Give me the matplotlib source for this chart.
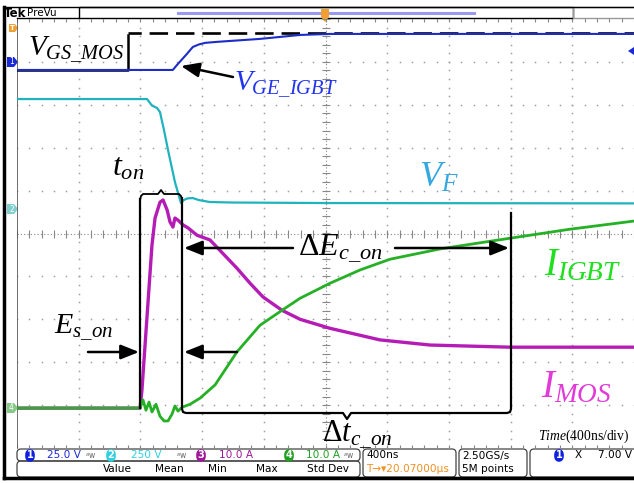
import numpy as np
import matplotlib
matplotlib.use('Agg')
import matplotlib.pyplot as plt
from matplotlib.patches import FancyBboxPatch, Polygon, Rectangle

plt.rcParams['mathtext.fontset'] = 'custom'
plt.rcParams['mathtext.rm'] = 'Liberation Serif'
plt.rcParams['mathtext.it'] = 'Liberation Serif:italic'
plt.rcParams['mathtext.bf'] = 'Liberation Serif:bold'

# channel settings (per div) and ground marker position (div from centre)
ch_scale = {1: 25.0, 2: 250.0, 3: 10.0, 4: 10.0}
ch_offset = {1: 4.0, 2: 0.57, 3: -4.07, 4: -4.07}

# ch1 V_GE_IGBT (V)
t_vge = [-2000, -990, -960, -930, -900, -860, -820, -780, -700, -620, -425, -165, 30, 2000]
v_vge = [-4.7, -4.7, -1.5, 1.5, 4.5, 8.7, 10.2, 11.1, 11.7, 12.2, 13.4, 15.7, 16.3, 16.3]

# V_GS_MOS (drawn on ch1 scale)
t_vgs = [-2000, -1280, -1280]
v_vgs = [-4.7, -4.7, 15.5]
t_vgs_high = [-1280, 2000]
v_vgs_high = [16.9, 16.9]

# ch2 V_F (V)
t_vf = [-2000, -1157, -1125, -1092, -1073, -1047, -1021, -976, -937, -920, -895, -860, -820, -750, -600, 0, 2000]
v_vf = [641, 641, 603, 589, 565, 460, 344, 157, 35, 52, 62, 64, 52, 41, 38, 35, 33]

# ch3 I_MOS (A)
t_imos = [-2000, -1202, -1190, -1125, -1105, -1073, -1053, -1027, -1008, -989, -976, -956,
          -924, -891, -833, -749, -574, -489, -405, -282, -165, 29, 353, 678, 1196, 2000]
i_imos = [0, 0, 4.2, 38.0, 44.3, 48.0, 48.5, 46.2, 43.4, 42.2, 44.3, 43.8,
          42.7, 42.0, 40.3, 39.2, 32.6, 29.1, 25.9, 22.8, 20.7, 18.6, 15.9, 14.7, 14.2, 14.2]

# ch4 I_IGBT (A)
t_iigbt = [-2000, -1202, -1183, -1164, -1144, -1125, -1099, -1073, -1047, -1021, -995, -976,
           -956, -930, -878, -814, -716, -574, -425, -282, -165, 29, 224, 418, 742, 1196, 1585, 2000]
i_iigbt = [0, 0, 1.9, -0.5, 1.4, -0.9, 0.9, -1.9, -3.0, -3.0, -1.4, 0.5,
           -0.7, 0.2, 0.9, 2.3, 5.4, 13.1, 19.3, 22.8, 25.6, 29.1, 32.2, 34.7, 37.1, 39.6, 41.7, 43.6]

W, H = 634, 483
fig = plt.figure(figsize=(W / 100, H / 100), dpi=100)
fig.patch.set_facecolor('white')

# pixel overlay axes for frame / status bar
bg = fig.add_axes([0, 0, 1, 1], zorder=0)
bg.set_xlim(0, W)
bg.set_ylim(H, 0)
bg.axis('off')

# grid axes
gx0, gx1, gy0, gy1 = 17, 634, 19, 448
ax = fig.add_axes([gx0 / W, 1 - gy1 / H, (gx1 - gx0) / W, (gy1 - gy0) / H], zorder=1)
ax.set_xlim(-2000, 2000)
ax.set_ylim(-5, 5)
ax.axis('off')
ax.patch.set_alpha(0)

gcol = '#a0a0a0'
for i in range(-4, 5):
    if i == 0:
        continue
    yy = np.arange(-5, 5.01, 0.2)
    ax.plot(np.full_like(yy, i * 400), yy, ls='none', marker='s', ms=1.1, color=gcol, mec='none')
    xx = np.arange(-2000, 2001, 80)
    ax.plot(xx, np.full_like(xx, i, dtype=float), ls='none', marker='s', ms=1.1, color=gcol, mec='none')
# centre lines with minor ticks
yy = np.arange(-5, 5.01, 0.2)
ax.plot(np.zeros_like(yy), yy, ls='none', marker='_', ms=6, mew=0.8, color='#888888')
ax.plot([0, 0], [-5, 5], ls=(0, (1, 2)), lw=0.8, color='#888888')
xx = np.arange(-2000, 2001, 80)
ax.plot(xx, np.zeros_like(xx, dtype=float), ls='none', marker='|', ms=6, mew=0.8, color='#888888')
ax.plot([-2000, 2000], [0, 0], ls=(0, (1, 2)), lw=0.8, color='#888888')
# edge ticks
ax.plot(xx, np.full_like(xx, -5, dtype=float), ls='none', marker='|', ms=5, mew=0.8, color='#888888')
ax.plot([-2000, 2000], [-5, -5], lw=0.6, color='#b0b0b0')
ax.plot(xx, np.full_like(xx, 5, dtype=float), ls='none', marker='|', ms=5, mew=0.8, color='#888888')
ax.plot([-2000, -2000], [-5, 5], lw=1.2, color='#555555')


def to_div(ch, vals):
    return ch_offset[ch] + np.asarray(vals, dtype=float) / ch_scale[ch]


ax.plot(t_vgs, to_div(1, v_vgs), color='black', lw=1.8, zorder=3)
ax.plot(t_vgs_high, to_div(1, v_vgs_high), color='black', lw=1.9, ls=(2, (7, 3)), zorder=3)
ax.plot(t_vge, to_div(1, v_vge), color='#1c2cc8', lw=1.5, zorder=4)
ax.plot(t_vf, to_div(2, v_vf), color='#1fb3bd', lw=1.6, zorder=4)
ax.plot(t_imos, to_div(3, i_imos), color='#b51cb5', lw=2.4, zorder=4)
ax.plot(t_iigbt, to_div(4, i_iigbt), color='#26b026', lw=2.0, zorder=5)

# overlay for annotations
top = fig.add_axes([0, 0, 1, 1], zorder=2)
top.set_xlim(0, W)
top.set_ylim(H, 0)
top.axis('off')
top.patch.set_alpha(0)

# outer frame
bg.plot([4, 4], [7, 478], color='black', lw=2.5)
bg.plot([4, 640], [478, 478], color='black', lw=2.5)
bg.plot([4, 640], [7, 7], color='black', lw=1.0)
bg.add_patch(Rectangle((79, 7), 494, 11, fill=False, ec='black', lw=1.0))
bg.add_patch(Rectangle((573, 7), 70, 11, fill=False, ec='#999999', lw=1.0))
bg.plot([178, 474], [13, 13], color='#9a9af0', lw=2.2)
bg.plot([17, 79], [18, 18], color='black', lw=1.0)
bg.text(4, 13.5, 'Tek', fontsize=8.5, fontweight='bold', va='center', ha='left')
bg.text(27, 13, 'PreVu', fontsize=7.5, va='center', ha='left')

# trigger marker
bg.add_patch(Polygon([[321, 9], [329, 9], [329, 17], [325, 22], [321, 17]], closed=True, fc='#f0a030', ec='none', zorder=5))
bg.add_patch(Polygon([[9, 24], [15, 24], [18, 28], [15, 32], [9, 32]], closed=True, fc='#f0a030', ec='none'))
bg.text(12.5, 28, 'T', fontsize=5, color='white', ha='center', va='center', fontweight='bold')

# channel markers
for yy_m, col, lab in [(62, '#1a2ad8', '1'), (209, '#7fcfcf', '2'), (408, '#88c888', '4')]:
    bg.add_patch(Polygon([[7, yy_m - 5], [14, yy_m - 5], [18, yy_m], [14, yy_m + 5], [7, yy_m + 5]],
                         closed=True, fc=col, ec='none', zorder=6))
    bg.text(11.5, yy_m, lab, fontsize=5.5, color='white', ha='center', va='center', zorder=7)
top.add_patch(Polygon([[628, 51], [634, 47], [634, 55]], closed=True, fc='#1a2ad8', ec='none'))

# status bar
def rbox(x, y, w, h, ec='#444444'):
    bg.add_patch(FancyBboxPatch((x, y), w, h, boxstyle='round,pad=0,rounding_size=4',
                                fill=False, ec=ec, lw=0.9, mutation_aspect=1))

rbox(17, 449, 343, 12)
rbox(17, 461, 343, 16)
rbox(363, 449, 93, 28)
rbox(459, 449, 68, 28)
rbox(530, 449, 110, 28)

def badge(x, y, n, col):
    bg.text(x, y, n, fontsize=7, color='white', ha='center', va='center', fontweight='bold',
            bbox=dict(boxstyle='round,pad=0.15,rounding_size=0.6', fc=col, ec='none'))

sfont = dict(fontsize=7.6, va='center', family='DejaVu Sans')
badge(30, 455.5, '1', '#1020e0')
bg.text(47, 455.5, '25.0 V', color='#1a2ad8', **sfont)
bg.text(91, 455.5, r'$^{B}$w', color='#666666', fontsize=5.5, va='center', ha='center')
badge(111, 455.5, '2', '#30d0e0')
bg.text(131, 455.5, '250 V', color='#30d0e0', **sfont)
bg.text(182, 455.5, r'$^{B}$w', color='#666666', fontsize=5.5, va='center', ha='center')
badge(201, 455.5, '3', '#a0189a')
bg.text(219, 455.5, '10.0 A', color='#a0189a', **sfont)
badge(289, 455.5, '4', '#20a020')
bg.text(306, 455.5, '10.0 A', color='#20a020', **sfont)
bg.text(349, 455.5, r'$^{B}$w', color='#666666', fontsize=5.5, va='center', ha='center')
for lab, xc in [('Value', 117), ('Mean', 169), ('Min', 217), ('Max', 267), ('Std Dev', 328)]:
    bg.text(xc, 469.5, lab, ha='center', color='black', **sfont)
bg.text(366, 455.5, '400ns', color='black', **sfont)
bg.text(366, 469.5, u'T\u2192\u25be20.07000\u00b5s', color='#f09020', **sfont)
bg.text(462, 455.5, '2.50GS/s', color='black', **sfont)
bg.text(462, 469.5, '5M points', color='black', **sfont)
badge(559, 455.5, '1', '#1020e0')
bg.text(575, 455.5, 'X', color='black', **sfont)
bg.text(598, 455.5, '7.00 V', color='black', **sfont)

# annotations
top.text(28, 56, r'$V_{GS\_MOS}$', fontsize=21, color='black')
top.text(234, 91, r'$V_{GE\_IGBT}$', fontsize=21, color='#2233ee')
top.text(419, 187, r'$V_F$', fontsize=26, color='#35a8e0')
top.text(112, 176, r'$t_{on}$', fontsize=23, color='black')
top.text(54, 334, r'$E_{s\_on}$', fontsize=21.5, color='black')
top.text(298, 255, r'$\mathit{\Delta} E_{c\_on}$', fontsize=23, color='black')
top.text(322, 441, r'$\mathit{\Delta} t_{c\_on}$', fontsize=22, color='black')
top.text(544, 275, r'$I_{IGBT}$', fontsize=28, color='#1ee01e')
top.text(541, 397, r'$I_{MOS}$', fontsize=28, color='#e23ad8')
top.text(538, 440, r'$\mathit{Time}$(400ns/div)', fontsize=9.8, color='black',
         family='Liberation Serif')

ap = dict(arrowstyle='-|>,head_length=1.0,head_width=0.4', color='black', lw=1.8,
          mutation_scale=11, shrinkA=0, shrinkB=0)
for tail, tip in [((233, 77), (181, 66)), ((88, 352), (139, 352)), ((237, 352), (184, 352)),
                  ((293, 248), (184, 248)), ((395, 248), (509, 248))]:
    top.annotate('', xy=tip, xytext=tail, arrowprops=ap)

# brackets
blw = 1.6
top.plot([140, 140], [199, 408], color='black', lw=blw)
top.plot([140, 141, 143, 158, 161, 164, 179, 181, 182],
         [200, 196, 194, 194, 190, 194, 194, 196, 200], color='black', lw=1.3)
top.plot([182, 182, 183, 186, 343, 347, 351, 507, 510, 511, 511],
         [198, 409, 412, 413, 413, 419, 413, 413, 412, 409, 213], color='black', lw=blw)

fig.savefig('out.png', dpi=100, facecolor='white')
